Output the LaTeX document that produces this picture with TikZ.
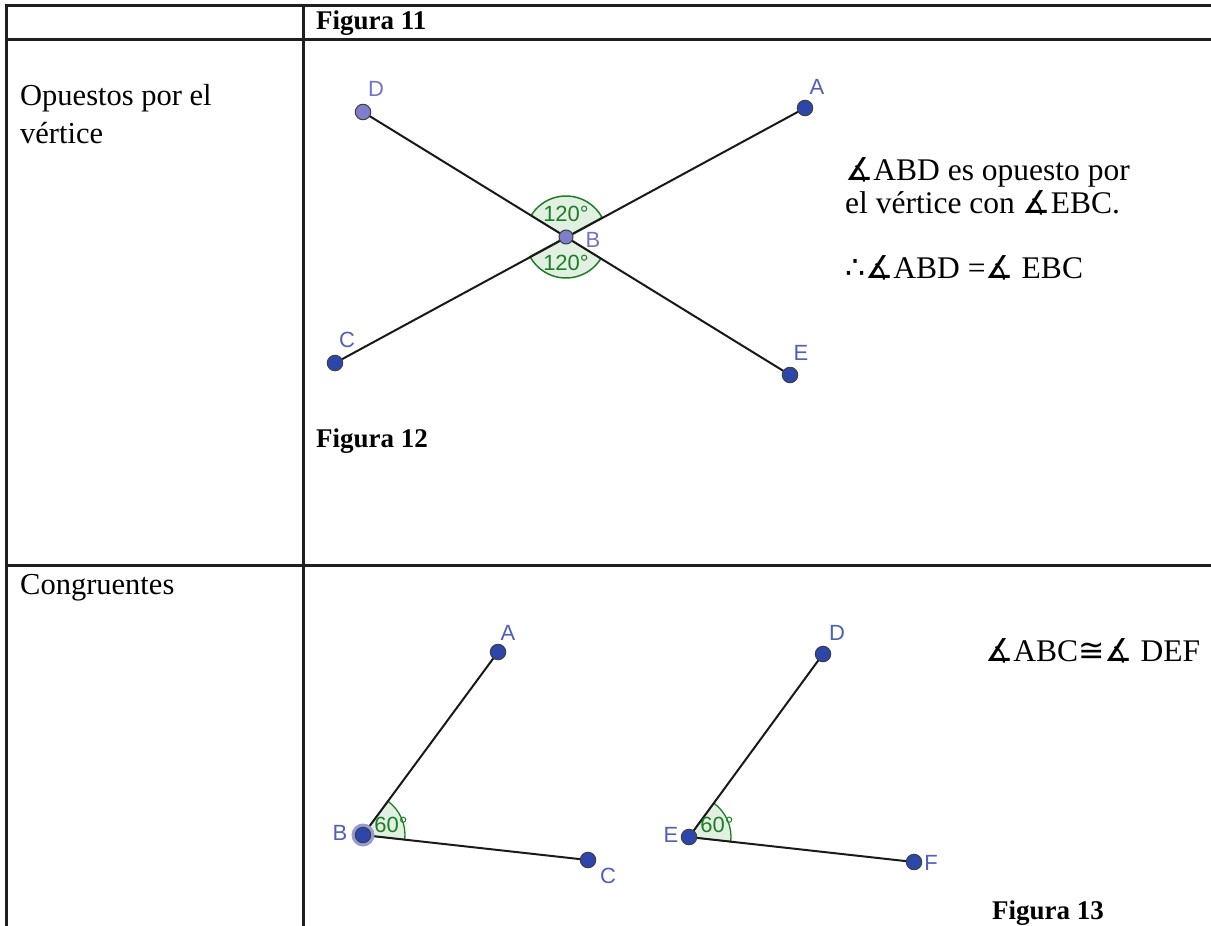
\documentclass[tikz,border=0pt]{standalone}
\usepackage{fontspec}
\setmainfont{Liberation Serif}
\newfontfamily\symf{DejaVu Sans}
\newfontfamily\ggb{Liberation Sans}
\definecolor{ptdark}{RGB}{45,70,170}
\definecolor{ptlight}{RGB}{125,128,200}
\definecolor{lbldark}{RGB}{80,95,185}
\definecolor{lbllight}{RGB}{115,115,195}
\definecolor{anggreen}{RGB}{30,125,40}
\definecolor{angfill}{RGB}{225,240,225}
\definecolor{halo}{RGB}{150,155,215}
\newcommand{\angsym}{{\symf ∡}}
\newcommand{\bigtxt}{\fontsize{30.5}{38}\selectfont}
\newcommand{\midtxt}{\fontsize{31.5}{33}\selectfont}
\newcommand{\headtxt}{\fontsize{27}{32}\selectfont\bfseries}
\newcommand{\ggbtxt}{\ggb\fontsize{22}{26}\selectfont}
\begin{document}
\begin{tikzpicture}[x=1pt,y=-1pt,
  tbl/.style={line width=3pt, draw=black!88},
  seg/.style={line width=2pt, draw=black!90},
  ptd/.style={circle, inner sep=0pt, minimum size=15.5pt, fill=ptdark, draw=black!75, line width=1pt},
  ptl/.style={circle, inner sep=0pt, minimum size=15.5pt, fill=ptlight, draw=black!75, line width=1pt},
  lbl/.style={font=\ggbtxt, text=lbldark, inner sep=0pt},
  lbll/.style={font=\ggbtxt, text=lbllight, inner sep=0pt},
  sector/.style={fill=angfill, draw=anggreen, line width=1.5pt},
  anglbl/.style={font=\ggbtxt, text=anggreen, inner sep=0pt},
  celltxt/.style={font=\bigtxt, anchor=base west, align=left, inner sep=0pt},
  righttxt/.style={font=\midtxt, anchor=base west, inner sep=0pt},
  headlbl/.style={font=\headtxt, anchor=base west, inner sep=0pt}]
\useasboundingbox (0,0) rectangle (1211,926);
\fill[white] (0,0) rectangle (1211,926);
% table
\draw[tbl] (4.5,5) -- (1211,5);
\draw[tbl] (4.5,39) -- (1211,39);
\draw[tbl] (4.5,565) -- (1211,565);
\draw[tbl] (6,3.5) -- (6,926);
\draw[tbl] (303,3.5) -- (303,926);
% headings and cell texts
\node[headlbl] (h11) at (316,29) {Figura 11};
\node[headlbl] (h12) at (316,447) {Figura 12};
\node[headlbl] (h13) at (992,919) {Figura 13};
\node[celltxt] (t1) at (20,143) {Opuestos por el\\vértice};
\node[celltxt] (t2) at (20,594) {Congruentes};
\node[righttxt] (r1) at (845,180) {\angsym ABD es opuesto por};
\node[righttxt] (r2) at (845,213) {el vértice con \angsym EBC.};
\node[righttxt] (r3) at (845,278) {{\symf ∴}\angsym ABD =\angsym{} EBC};
\node[righttxt] (r4) at (985,661) {\angsym ABC{\symf ≅}\angsym{} DEF};
% Figure 12
\coordinate (A) at (805,108);
\coordinate (D) at (363,112);
\coordinate (B) at (566,237);
\coordinate (C) at (335,363);
\coordinate (E) at (790,375);
\filldraw[sector] (B) -- ++(-148.4:41) arc[start angle=-148.4, end angle=-28.4, radius=41] -- cycle;
\filldraw[sector] (B) -- ++(31.6:41) arc[start angle=31.6, end angle=151.5, radius=41] -- cycle;
\draw[seg] (D) -- (E);
\draw[seg] (C) -- (A);
\node[ptd] (pA) at (A) {};
\node[ptl] (pD) at (D) {};
\node[ptl, minimum size=14pt] (pB) at (B) {};
\node[ptd] (pC) at (C) {};
\node[ptd] (pE) at (E) {};
\node[lbl] (lA) at (817,87) {A};
\node[lbll] (lD) at (376,89) {D};
\node[lbll] (lB) at (593,240) {B};
\node[lbl] (lC) at (347,340) {C};
\node[lbl] (lE) at (801,353) {E};
\node[anglbl] (a1) at (566,214) {120°};
\node[anglbl] (a2) at (566,263) {120°};
% Figure 13 left
\coordinate (A2) at (498,652);
\coordinate (B2) at (363,835);
\coordinate (C2) at (588,860);
\filldraw[sector, line width=1.3pt] (B2) -- ++(-53.6:42) arc[start angle=-53.6, end angle=6.3, radius=42] -- cycle;
\draw[seg] (A2) -- (B2) -- (C2);
\node[circle, inner sep=0pt, minimum size=23pt, fill=halo] (hB2) at (B2) {};
\node[ptd] (pA2) at (A2) {};
\node[ptd] (pB2) at (B2) {};
\node[ptd] (pC2) at (C2) {};
\node[lbl] (lA2) at (508,633) {A};
\node[lbl] (lB2) at (340,833) {B};
\node[lbl] (lC2) at (608,876) {C};
\node[anglbl] (a3) at (391,825) {60°};
% Figure 13 right
\coordinate (D3) at (823,654);
\coordinate (E3) at (689,837);
\coordinate (F3) at (914,862);
\filldraw[sector, line width=1.3pt] (E3) -- ++(-53.8:42) arc[start angle=-53.8, end angle=6.3, radius=42] -- cycle;
\draw[seg] (D3) -- (E3) -- (F3);
\node[ptd] (pD3) at (D3) {};
\node[ptd] (pE3) at (E3) {};
\node[ptd] (pF3) at (F3) {};
\node[lbl] (lD3) at (837,633) {D};
\node[lbl] (lE3) at (671,835) {E};
\node[lbl] (lF3) at (931,863) {F};
\node[anglbl] (a4) at (717,825) {60°};
\end{tikzpicture}
\end{document}
